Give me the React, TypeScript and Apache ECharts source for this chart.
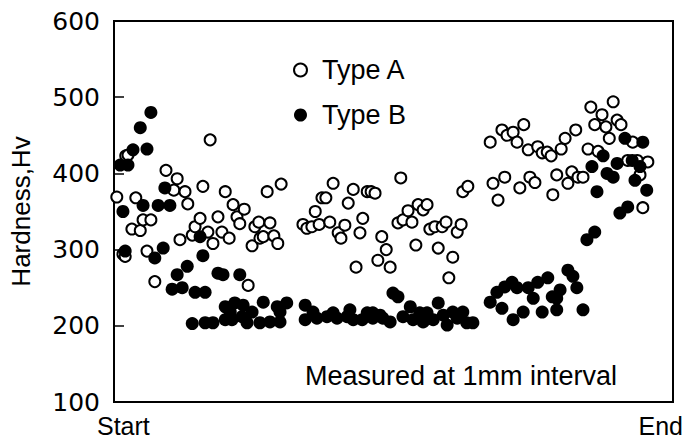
import React, { useEffect, useRef } from "react";
import * as echarts from "echarts";

// Type A: open circles  [position (0 = Start, 100 = End), hardness Hv]
const typeA: number[][] = [
  [0.5, 369], [1.6, 294], [2.0, 291], [2.1, 423], [2.5, 424], [3.2, 327], [3.9, 368], [4.7, 325],
  [5.2, 339], [5.9, 298], [6.6, 339], [7.3, 258], [9.3, 404], [10.7, 378], [11.3, 393], [11.8, 313],
  [12.7, 376], [13.2, 360], [14.0, 319], [14.5, 330], [15.4, 341], [15.9, 383], [16.8, 323], [17.2, 444],
  [17.7, 308], [18.6, 343], [19.3, 323], [19.9, 376], [20.6, 315], [21.3, 359], [22.0, 343], [22.5, 334],
  [23.3, 353], [24.0, 253], [24.7, 305], [25.2, 330], [25.9, 336], [26.1, 315], [26.7, 317], [27.4, 376],
  [27.9, 335], [28.6, 318], [29.3, 308], [29.9, 386],
  [33.8, 333], [34.5, 328], [35.4, 330], [36.0, 350], [36.7, 333], [37.2, 368], [37.9, 368], [38.6, 336],
  [39.2, 387], [40.1, 322], [40.6, 315], [41.3, 332], [41.9, 361], [42.8, 379], [43.3, 277], [44.0, 322],
  [44.5, 341], [45.3, 376], [46.0, 376], [46.7, 374], [47.2, 286], [47.9, 317], [48.7, 300], [49.4, 277],
  [50.8, 335], [51.3, 394], [51.7, 339], [52.6, 351], [53.3, 336], [54.0, 306], [54.4, 359], [55.3, 352],
  [56.0, 359], [56.5, 327], [57.4, 330], [58.0, 302], [58.7, 330], [59.4, 336], [59.9, 263], [60.6, 290],
  [61.4, 323], [62.1, 333], [62.4, 376], [63.3, 383],
  [67.3, 441], [67.8, 387], [68.7, 365], [69.4, 457], [69.9, 395], [70.3, 450], [71.4, 454], [72.1, 441],
  [72.6, 381], [73.3, 464], [74.1, 431], [74.4, 395], [75.3, 388], [75.8, 435], [76.6, 427], [77.5, 428],
  [78.2, 423], [78.5, 372], [79.2, 398], [80.0, 432], [80.7, 446], [81.2, 387], [81.9, 402], [82.6, 457],
  [83.0, 395], [83.9, 395], [84.8, 432], [85.3, 487], [86.0, 464], [86.6, 429], [87.3, 477], [88.0, 461],
  [88.6, 446], [89.3, 494], [90.0, 470], [90.7, 464], [91.9, 417], [92.8, 441], [93.6, 417], [94.1, 398],
  [94.6, 355], [95.5, 415],
];

// Type B: filled circles
const typeB: number[][] = [
  [1.1, 411], [2.5, 411], [3.4, 431], [4.7, 460], [5.9, 432], [6.6, 480],
  [1.6, 350], [5.2, 358], [7.9, 358], [10.0, 358], [9.1, 381],
  [2.0, 298], [7.3, 289], [8.8, 302],
  [13.1, 278], [15.4, 317], [15.9, 292], [11.3, 267], [10.4, 248], [12.2, 250], [14.5, 244], [16.3, 244],
  [18.6, 269], [19.5, 267], [22.5, 267],
  [19.9, 225], [21.6, 230], [23.1, 227], [26.7, 231], [29.2, 225], [30.9, 230], [34.2, 227], [39.2, 217],
  [42.2, 221], [46.3, 217], [53.0, 225], [56.0, 217], [58.0, 230], [62.4, 218],
  [20.8, 218], [24.7, 218], [29.7, 218], [35.6, 218], [45.3, 217], [47.6, 214], [54.7, 217], [60.6, 218],
  [14.0, 203], [16.3, 204], [17.7, 204], [19.9, 208], [21.1, 208], [22.9, 212], [23.8, 204], [26.1, 204],
  [27.9, 205], [29.7, 205], [34.2, 208], [36.3, 210], [38.1, 212], [39.9, 210], [41.7, 212], [42.8, 208],
  [44.4, 208], [46.3, 210], [48.1, 210], [49.4, 205], [51.7, 212], [53.5, 208], [55.3, 205], [57.1, 208],
  [58.9, 214], [59.6, 201], [61.4, 210], [63.1, 204], [64.2, 204],
  [49.9, 243], [50.8, 238],
  [67.3, 231], [68.5, 244], [69.4, 223], [69.9, 251], [71.2, 257], [71.4, 208], [72.1, 250], [73.2, 218],
  [74.1, 250], [75.0, 236], [75.8, 257], [76.6, 218], [77.6, 263], [78.4, 238], [79.2, 221], [79.2, 236],
  [79.8, 247], [81.2, 273], [82.1, 265], [82.8, 250], [83.9, 221],
  [84.6, 313], [86.0, 323], [86.4, 376], [85.5, 409], [87.5, 423], [88.2, 400], [89.3, 395], [90.0, 413],
  [91.4, 446], [90.5, 348], [91.9, 356], [92.7, 417], [93.2, 391], [94.1, 409], [94.6, 441], [95.3, 378],
];

const seriesNames = ["Type A", "Type B"];
const yMin = 100;
const yMax = 600;
const yStep = 100;
const xEndLabels = ["Start", "End"];
const yAxisName = "Hardness,Hv";
const noteText = "Measured at 1mm interval";

const TEXT_FONT = "Liberation Sans, Arial, Helvetica, sans-serif";
const NUM_FONT = "DejaVu Sans, Verdana, sans-serif";

export default function App() {
  const ref = useRef<HTMLDivElement>(null);

  useEffect(() => {
    if (!ref.current) return;
    const chart = echarts.init(ref.current, null, { renderer: "svg" });
    chart.setOption({
      animation: false,
      backgroundColor: "#fff",
      grid: {
        left: 114,
        right: 20,
        top: 21,
        bottom: 41,
        show: true,
        borderColor: "#000",
        borderWidth: 2,
        backgroundColor: "transparent",
      },
      legend: {
        orient: "vertical",
        left: 288,
        top: 50,
        itemWidth: 13,
        itemHeight: 13,
        itemGap: 15,
        textStyle: {
          fontFamily: TEXT_FONT,
          fontSize: 27,
          color: "#000",
          lineHeight: 30,
          padding: [0, 0, 0, 10],
        },
        data: seriesNames,
      },
      xAxis: {
        type: "value",
        min: 0,
        max: 100,
        axisLine: { show: true, lineStyle: { color: "#000", width: 2 } },
        axisTick: { show: false },
        axisLabel: { show: false },
        splitLine: { show: false },
      },
      yAxis: {
        type: "value",
        min: yMin,
        max: yMax,
        interval: yStep,
        name: yAxisName,
        nameLocation: "middle",
        nameRotate: 90,
        nameGap: 80,
        nameTextStyle: { fontFamily: TEXT_FONT, fontSize: 26, color: "#000" },
        axisLine: { show: true, lineStyle: { color: "#000", width: 2 } },
        axisTick: { show: true, inside: true, length: 10, lineStyle: { color: "#000", width: 1.5 } },
        axisLabel: { fontFamily: NUM_FONT, fontSize: 25, color: "#000", margin: 14 },
        splitLine: { show: false },
      },
      series: [
        {
          name: seriesNames[0],
          type: "scatter",
          data: typeA,
          symbol: "circle",
          symbolSize: 11,
          itemStyle: { color: "#fff", borderColor: "#000", borderWidth: 2, opacity: 1 },
          z: 2,
        },
        {
          name: seriesNames[1],
          type: "scatter",
          data: typeB,
          symbol: "circle",
          symbolSize: 13,
          itemStyle: { color: "#000", borderColor: "#000", borderWidth: 0, opacity: 1 },
          z: 3,
        },
      ],
      graphic: [
        {
          type: "text",
          left: 97,
          top: 413,
          style: { text: xEndLabels[0], font: `25px ${TEXT_FONT}`, fill: "#000" },
        },
        {
          type: "text",
          right: 10,
          top: 413,
          style: { text: xEndLabels[1], font: `25px ${TEXT_FONT}`, fill: "#000" },
        },
        {
          type: "text",
          left: 305,
          top: 362,
          style: { text: noteText, font: `27px ${TEXT_FONT}`, fill: "#000" },
        },
      ],
    });
    return () => chart.dispose();
  }, []);

  return (
    <div
      ref={ref}
      style={{ position: "fixed", left: 0, top: 0, width: 693, height: 443, background: "#fff" }}
    />
  );
}
